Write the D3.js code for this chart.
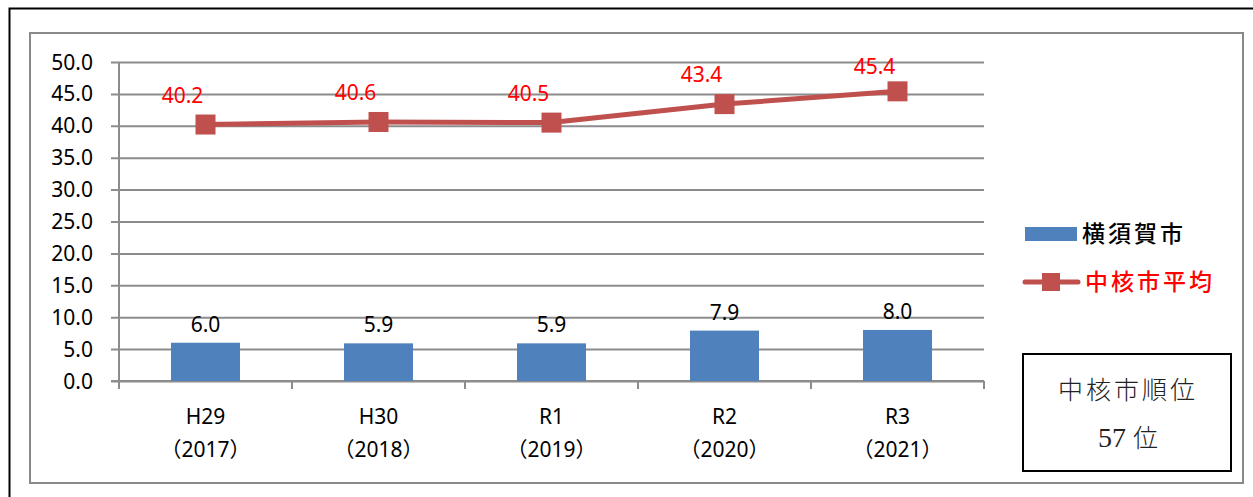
<!DOCTYPE html>
<html>
<head>
<meta charset="utf-8">
<script src="https://cdn.jsdelivr.net/npm/d3@7"></script>
<style>
  html, body { margin: 0; padding: 0; background: #fff; }
  svg { display: block; }
  text { font-family: "Noto Sans", "Noto Sans CJK JP", sans-serif; }
</style>
</head>
<body>
<svg id="chart" width="1253" height="497"></svg>
<script>
// Data
const categories = ["H29", "H30", "R1", "R2", "R3"];
const yearLabels = ["（2017）", "（2018）", "（2019）", "（2020）", "（2021）"];
const citySeries = [6.0, 5.9, 5.9, 7.9, 8.0];        // 横須賀市
const averageSeries = [40.2, 40.6, 40.5, 43.4, 45.4]; // 中核市平均
const yTicks = [0, 5, 10, 15, 20, 25, 30, 35, 40, 45, 50];
const seriesNames = ["横須賀市", "中核市平均"];
const rankTitle = "中核市順位";
const rankValue = "57";
const rankUnit = "位";

const svg = d3.select("#chart");
const barColor = "#4F81BD";
const lineColor = "#C0504D";
const gridColor = "#8C8C8C";

// Outer frame and chart area
svg.append("rect").attr("x", 9.5).attr("y", 8.5).attr("width", 1300).attr("height", 600)
  .attr("fill", "none").attr("stroke", "#000").attr("stroke-width", 2);
svg.append("rect").attr("x", 30).attr("y", 33).attr("width", 1213).attr("height", 450)
  .attr("fill", "#fff").attr("stroke", "#898989").attr("stroke-width", 2);

const plot = { left: 119, right: 984, top: 62, bottom: 381 };

const x = d3.scaleBand().domain(categories).range([plot.left, plot.right]).padding(0);
const y = d3.scaleLinear().domain([0, 50]).range([plot.bottom, plot.top]);

// Horizontal gridlines (extend 8px left of the value axis as tick marks)
const gy = svg.append("g").attr("transform", `translate(${plot.right},0)`);
gy.call(d3.axisLeft(y).tickValues(yTicks).tickSize(plot.right - plot.left + 8).tickFormat(""));
gy.select(".domain").remove();
gy.selectAll(".tick line").attr("stroke", gridColor).attr("stroke-width", 2).attr("x1", 0);

// Value labels on the left
svg.append("g").selectAll("text").data(yTicks).join("text")
  .attr("x", 93).attr("y", d => y(d)).attr("dy", "0.36em")
  .attr("text-anchor", "end").attr("font-size", 21).attr("fill", "#000")
  .text(d => d3.format(".1f")(d));

// Axis lines
svg.append("line").attr("x1", plot.left).attr("x2", plot.left)
  .attr("y1", plot.top).attr("y2", plot.bottom + 8)
  .attr("stroke", gridColor).attr("stroke-width", 2);
const boundaries = categories.map(c => x(c)).concat([plot.right]);
svg.append("g").selectAll("line").data(boundaries).join("line")
  .attr("x1", d => d).attr("x2", d => d).attr("y1", plot.bottom).attr("y2", plot.bottom + 8)
  .attr("stroke", gridColor).attr("stroke-width", 2);
svg.append("line").attr("x1", plot.left - 8).attr("x2", plot.right)
  .attr("y1", plot.bottom).attr("y2", plot.bottom)
  .attr("stroke", gridColor).attr("stroke-width", 2);

// Category labels
const cx = c => x(c) + x.bandwidth() / 2;
const xl = svg.append("g").attr("font-size", 21).attr("fill", "#000").attr("text-anchor", "middle");
xl.selectAll("text.cat").data(categories).join("text").attr("class", "cat")
  .attr("x", d => cx(d)).attr("y", 424).text(d => d);
xl.selectAll("text.yr").data(categories).join("text").attr("class", "yr")
  .attr("x", d => cx(d)).attr("y", 457).text((d, i) => yearLabels[i]);

// Bars
const barW = 69;
svg.append("g").selectAll("rect").data(citySeries).join("rect")
  .attr("x", (d, i) => cx(categories[i]) - barW / 2)
  .attr("y", d => y(d)).attr("width", barW).attr("height", d => y(0) - y(d))
  .attr("fill", barColor);
svg.append("g").selectAll("text").data(citySeries).join("text")
  .attr("x", (d, i) => cx(categories[i])).attr("y", d => y(d) - 11)
  .attr("text-anchor", "middle").attr("font-size", 21).attr("fill", "#000")
  .text(d => d3.format(".1f")(d));

// Average line with square markers
const line = d3.line().x((d, i) => cx(categories[i])).y(d => y(d));
svg.append("path").datum(averageSeries).attr("d", line)
  .attr("fill", "none").attr("stroke", lineColor).attr("stroke-width", 5).attr("stroke-linejoin", "round");
const mk = 20;
svg.append("g").selectAll("rect").data(averageSeries).join("rect")
  .attr("x", (d, i) => cx(categories[i]) - mk / 2).attr("y", d => y(d) - mk / 2)
  .attr("width", mk).attr("height", mk).attr("fill", lineColor);
svg.append("g").selectAll("text").data(averageSeries).join("text")
  .attr("x", (d, i) => cx(categories[i]) - 23).attr("y", d => Math.max(y(d) - 22, 74))
  .attr("text-anchor", "middle").attr("font-size", 21).attr("fill", "#FF0000")
  .text(d => d3.format(".1f")(d));

// Legend
const lg = svg.append("g");
lg.append("rect").attr("x", 1025).attr("y", 227).attr("width", 52).attr("height", 14).attr("fill", barColor);
lg.append("text").attr("x", 1082).attr("y", 234).attr("dy", "0.36em")
  .attr("font-family", "Noto Sans CJK JP").attr("font-size", 23).attr("font-weight", 500)
  .attr("letter-spacing", 3).attr("fill", "#000").text(seriesNames[0]);
lg.append("line").attr("x1", 1025).attr("x2", 1078).attr("y1", 282).attr("y2", 282)
  .attr("stroke", lineColor).attr("stroke-width", 5).attr("stroke-linecap", "round");
lg.append("rect").attr("x", 1042).attr("y", 273).attr("width", 18).attr("height", 18).attr("fill", lineColor);
lg.append("text").attr("x", 1085).attr("y", 282).attr("dy", "0.36em")
  .attr("font-family", "Noto Sans CJK JP").attr("font-size", 23).attr("font-weight", 500)
  .attr("letter-spacing", 3).attr("fill", "#FF0000").text(seriesNames[1]);

// Ranking box
const rb = svg.append("g");
rb.append("rect").attr("x", 1023).attr("y", 354).attr("width", 208).attr("height", 117)
  .attr("fill", "#fff").attr("stroke", "#000").attr("stroke-width", 2);
rb.append("text").attr("x", 1128).attr("y", 390).attr("dy", "0.36em").attr("text-anchor", "middle")
  .attr("font-family", "Noto Sans CJK JP").attr("font-weight", 300).attr("font-size", 25)
  .attr("letter-spacing", 3).attr("fill", "#222").text(rankTitle);
const rt = rb.append("text").attr("x", 1128).attr("y", 437).attr("dy", "0.36em").attr("text-anchor", "middle")
  .attr("font-size", 28).attr("fill", "#222");
rt.append("tspan").attr("font-family", "Liberation Serif").text(rankValue + " ");
rt.append("tspan").attr("font-family", "Noto Sans CJK JP").attr("font-weight", 300).attr("font-size", 25).text(rankUnit);
</script>
</body>
</html>
